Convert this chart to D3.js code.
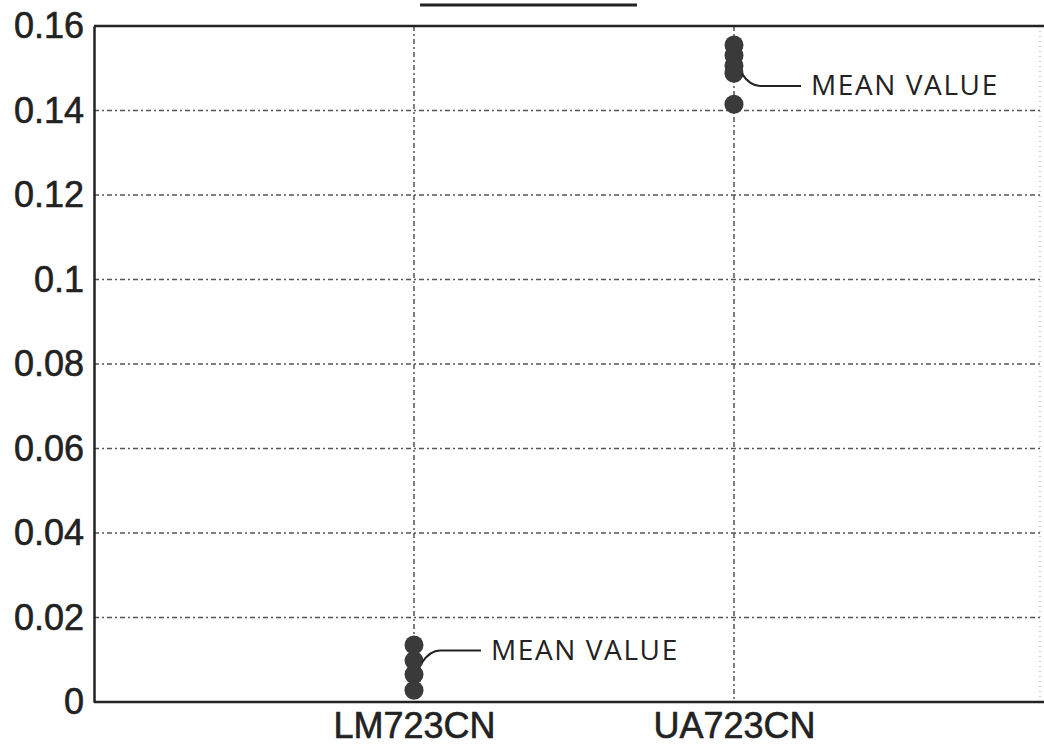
<!DOCTYPE html>
<html>
<head>
<meta charset="utf-8">
<script src="https://cdn.jsdelivr.net/npm/d3@7"></script>
<style>
  html, body { margin: 0; padding: 0; background: #fff; }
  svg { display: block; }
</style>
</head>
<body>
<svg id="chart"></svg>
<script>
// chart data
const categories = ["LM723CN", "UA723CN"];
const lmValues = [0.0135, 0.0098, 0.0065, 0.0028];
const uaValues = [0.1555, 0.1530, 0.1506, 0.1488, 0.1415];
const yTicks = [0, 0.02, 0.04, 0.06, 0.08, 0.1, 0.12, 0.14, 0.16];
const yTickLabels = ["0", "0.02", "0.04", "0.06", "0.08", "0.1", "0.12", "0.14", "0.16"];
const annotation = "MEAN VALUE";

const width = 1044, height = 752;
const margin = { top: 26, right: 4, bottom: 50, left: 94 };

const svg = d3.select("#chart")
    .attr("width", width)
    .attr("height", height);

const x = d3.scaleLinear()
    .domain([0, 3])
    .range([margin.left, margin.left + 960]);

const y = d3.scaleLinear()
    .domain([0, 0.16])
    .range([height - margin.bottom, margin.top]);

const plotRight = width - margin.right;
const ink = "#222";

svg.append("defs").append("clipPath").attr("id", "plot")
    .append("rect")
    .attr("x", margin.left).attr("y", margin.top)
    .attr("width", plotRight - margin.left)
    .attr("height", y(0) - margin.top);

// title remnant bar
svg.append("line")
    .attr("x1", 420).attr("x2", 637)
    .attr("y1", 5).attr("y2", 5)
    .attr("stroke", ink).attr("stroke-width", 3);

const grid = svg.append("g").attr("clip-path", "url(#plot)");

// horizontal grid
grid.selectAll(".hgrid")
    .data(yTicks.slice(1, -1))
    .enter().append("line")
    .attr("x1", margin.left).attr("x2", plotRight)
    .attr("y1", d => y(d)).attr("y2", d => y(d))
    .attr("stroke", "#555")
    .attr("stroke-width", 1.5)
    .attr("stroke-dasharray", "5,3,2,3");

// vertical grid at categories
grid.selectAll(".vgrid")
    .data(categories)
    .enter().append("line")
    .attr("x1", (d, i) => x(i + 1)).attr("x2", (d, i) => x(i + 1))
    .attr("y1", margin.top).attr("y2", y(0))
    .attr("stroke", "#555")
    .attr("stroke-width", 1.5)
    .attr("stroke-dasharray", "5,3,2,3");

// right edge (light dotted)
svg.append("line")
    .attr("x1", plotRight).attr("x2", plotRight)
    .attr("y1", margin.top).attr("y2", y(0))
    .attr("stroke", "#999").attr("stroke-width", 1)
    .attr("stroke-dasharray", "1,4");

// frame top
svg.append("line")
    .attr("x1", margin.left).attr("x2", width)
    .attr("y1", margin.top).attr("y2", margin.top)
    .attr("stroke", ink).attr("stroke-width", 2.5);

// y axis
const yAxis = svg.append("g")
    .attr("transform", `translate(${margin.left},0)`)
    .call(d3.axisLeft(y).tickValues(yTicks)
        .tickFormat((d, i) => yTickLabels[i])
        .tickSize(0).tickPadding(10));
yAxis.select(".domain").attr("stroke", ink).attr("stroke-width", 2.5);
yAxis.selectAll("text")
    .attr("font-family", "Liberation Sans, Arial, sans-serif")
    .attr("font-size", 36)
    .attr("stroke", ink).attr("stroke-width", 0.6)
    .attr("fill", ink);

// x axis
const xAxis = svg.append("g")
    .attr("transform", `translate(0,${y(0)})`)
    .call(d3.axisBottom(x).tickValues([1, 2])
        .tickFormat(d => categories[d - 1])
        .tickSize(0).tickPadding(10));
xAxis.select(".domain").attr("stroke", ink).attr("stroke-width", 2.5)
    .attr("d", `M${margin.left},0H${width}`);
xAxis.selectAll("text")
    .attr("font-family", "Liberation Sans, Arial, sans-serif")
    .attr("font-size", 36)
    .attr("stroke", ink).attr("stroke-width", 0.6)
    .attr("fill", ink);

// points
const series = [lmValues, uaValues];
series.forEach((vals, i) => {
    svg.append("g").selectAll("circle")
        .data(vals)
        .enter().append("circle")
        .attr("cx", x(i + 1))
        .attr("cy", d => y(d))
        .attr("r", 9.5)
        .attr("fill", "#3a3a3a");
});

// mean value annotations
const lmMean = d3.mean(lmValues);
const uaMean = d3.mean(uaValues.slice(0, 4));
const notes = [
    { cx: x(1), cy: y(lmMean), y0: -5, y1: -17 },
    { cx: x(2), cy: y(uaMean), y0: 14, y1: 26 }
];
notes.forEach(n => {
    const x0 = n.cx + 8, y0 = n.cy + n.y0;
    const x1 = n.cx + 26, y1 = n.cy + n.y1;
    svg.append("path")
        .attr("d", `M${x0},${y0}Q${x0 + 8},${y1} ${x1},${y1}H${n.cx + 67}`)
        .attr("fill", "none")
        .attr("stroke", ink)
        .attr("stroke-width", 2);
    svg.append("text")
        .attr("x", n.cx + 77)
        .attr("y", y1 + 9)
        .attr("font-family", "Open Sans, sans-serif")
        .attr("font-size", 28)
        .attr("letter-spacing", 1.6)
        .attr("fill", ink)
        .text(annotation);
});
</script>
</body>
</html>
